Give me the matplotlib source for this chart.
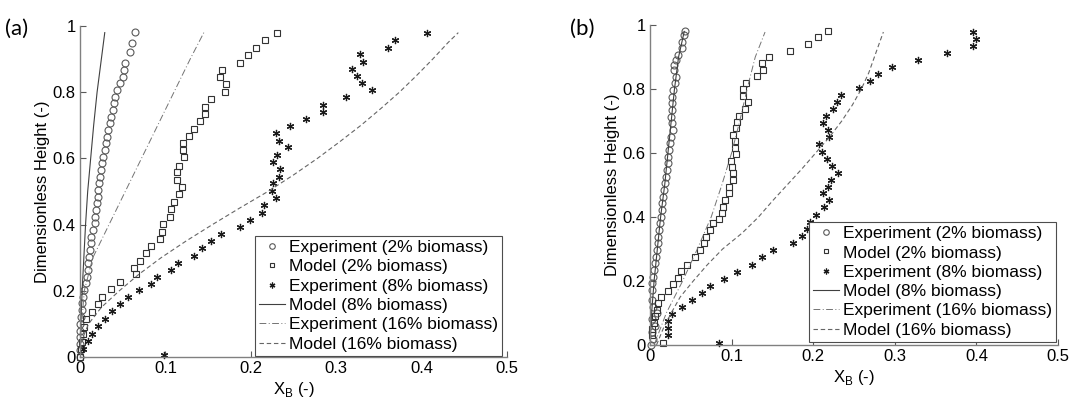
import matplotlib
matplotlib.use("Agg")
import matplotlib.pyplot as plt

plt.rcParams['font.family'] = ['Liberation Sans', 'DejaVu Sans']

# ---------------- Panel (a) data ----------------
a_circ_x = [0.000, 0.000, 0.000, 0.000, 0.000, 0.000, 0.001, 0.002, 0.002, 0.004, 0.005, 0.007,
            0.008, 0.009, 0.009, 0.011, 0.012, 0.013, 0.013, 0.015, 0.017, 0.018, 0.019, 0.020,
            0.021, 0.021, 0.022, 0.023, 0.025, 0.026, 0.027, 0.029, 0.030, 0.032, 0.033, 0.035,
            0.036, 0.039, 0.040, 0.041, 0.043, 0.047, 0.050, 0.052, 0.053, 0.059, 0.061, 0.064]
a_circ_y = [0.000, 0.020, 0.040, 0.060, 0.080, 0.100, 0.121, 0.142, 0.163, 0.181, 0.202, 0.224,
            0.242, 0.263, 0.284, 0.302, 0.323, 0.344, 0.363, 0.384, 0.405, 0.423, 0.444, 0.465,
            0.483, 0.505, 0.526, 0.544, 0.565, 0.586, 0.604, 0.625, 0.647, 0.665, 0.686, 0.707,
            0.725, 0.746, 0.767, 0.786, 0.807, 0.828, 0.846, 0.867, 0.888, 0.921, 0.950, 0.982]

a_sq_x = [0.000, 0.001, 0.002, 0.003, 0.005, 0.007, 0.014, 0.021, 0.026, 0.036, 0.047, 0.066,
          0.063, 0.070, 0.077, 0.083, 0.094, 0.096, 0.097, 0.105, 0.107, 0.110, 0.116, 0.119,
          0.113, 0.113, 0.116, 0.122, 0.121, 0.121, 0.128, 0.134, 0.141, 0.146, 0.146, 0.153,
          0.170, 0.171, 0.164, 0.166, 0.187, 0.197, 0.206, 0.217, 0.231]
a_sq_y = [0.000, 0.024, 0.045, 0.069, 0.091, 0.115, 0.136, 0.160, 0.181, 0.205, 0.227, 0.251,
          0.269, 0.290, 0.314, 0.335, 0.356, 0.378, 0.402, 0.423, 0.447, 0.468, 0.492, 0.514,
          0.535, 0.559, 0.577, 0.604, 0.625, 0.647, 0.668, 0.689, 0.713, 0.734, 0.755, 0.779,
          0.801, 0.825, 0.846, 0.867, 0.888, 0.912, 0.934, 0.958, 0.979]

a_star_x = [0.098, 0.004, 0.009, 0.014, 0.021, 0.029, 0.038, 0.047, 0.056, 0.069, 0.083, 0.090,
            0.106, 0.115, 0.133, 0.143, 0.153, 0.165, 0.187, 0.199, 0.213, 0.215, 0.230, 0.225,
            0.226, 0.233, 0.234, 0.226, 0.231, 0.243, 0.233, 0.229, 0.246, 0.265, 0.284, 0.284,
            0.311, 0.342, 0.330, 0.324, 0.319, 0.331, 0.328, 0.361, 0.369, 0.406]
a_star_y = [0.005, 0.024, 0.047, 0.070, 0.094, 0.116, 0.139, 0.160, 0.181, 0.202, 0.222, 0.242,
            0.263, 0.284, 0.305, 0.329, 0.349, 0.372, 0.393, 0.414, 0.436, 0.459, 0.481, 0.503,
            0.525, 0.545, 0.567, 0.588, 0.610, 0.633, 0.654, 0.676, 0.697, 0.718, 0.740, 0.761,
            0.784, 0.806, 0.827, 0.848, 0.871, 0.892, 0.914, 0.935, 0.957, 0.979]

a_m8_x = [0.000, 0.001, 0.0025, 0.0045, 0.0065, 0.009, 0.0125, 0.016, 0.020, 0.025, 0.029]
a_m8_y = [0.000, 0.100, 0.200, 0.300, 0.400, 0.500, 0.600, 0.700, 0.800, 0.900, 0.980]

a_e16_x = [0.000, 0.002, 0.005, 0.015, 0.034, 0.053, 0.072, 0.091, 0.110, 0.129, 0.145]
a_e16_y = [0.000, 0.100, 0.200, 0.300, 0.400, 0.500, 0.600, 0.700, 0.800, 0.900, 0.980]

a_m16_x = [0.000, 0.002, 0.010, 0.025, 0.046, 0.069, 0.095, 0.124, 0.155, 0.187, 0.220,
           0.250, 0.278, 0.304, 0.329, 0.352, 0.374, 0.394, 0.413, 0.431, 0.443]
a_m16_y = [0.000, 0.050, 0.100, 0.150, 0.200, 0.250, 0.300, 0.350, 0.400, 0.450, 0.500,
           0.550, 0.600, 0.650, 0.700, 0.750, 0.800, 0.850, 0.900, 0.950, 0.980]

# ---------------- Panel (b) data ----------------
b_circ_x = [0.001, 0.004, 0.002, 0.006, 0.003, 0.008, 0.004, 0.002, 0.002, 0.002, 0.004, 0.005,
            0.006, 0.007, 0.009, 0.010, 0.010, 0.011, 0.012, 0.013, 0.015, 0.015, 0.016, 0.017,
            0.018, 0.020, 0.021, 0.022, 0.022, 0.023, 0.025, 0.026, 0.028, 0.027, 0.026, 0.027,
            0.027, 0.027, 0.028, 0.031, 0.032, 0.029, 0.029, 0.032, 0.034, 0.039, 0.039, 0.042,
            0.043]
b_circ_y = [0.000, 0.020, 0.040, 0.060, 0.080, 0.100, 0.120, 0.140, 0.172, 0.194, 0.213, 0.234,
            0.256, 0.275, 0.297, 0.319, 0.338, 0.359, 0.381, 0.400, 0.422, 0.444, 0.463, 0.484,
            0.506, 0.525, 0.547, 0.569, 0.588, 0.609, 0.631, 0.650, 0.672, 0.694, 0.713, 0.734,
            0.756, 0.775, 0.797, 0.819, 0.838, 0.859, 0.875, 0.891, 0.906, 0.928, 0.947, 0.969,
            0.981]

b_sq_x = [0.016, 0.003, 0.003, 0.005, 0.006, 0.008, 0.010, 0.014, 0.022, 0.028, 0.034, 0.038,
          0.045, 0.055, 0.061, 0.066, 0.069, 0.073, 0.077, 0.085, 0.088, 0.089, 0.092, 0.097,
          0.097, 0.102, 0.102, 0.100, 0.099, 0.105, 0.104, 0.104, 0.102, 0.105, 0.107, 0.109,
          0.116, 0.120, 0.114, 0.114, 0.118, 0.131, 0.138, 0.137, 0.146, 0.172, 0.194, 0.206,
          0.218]
b_sq_y = [0.005, 0.030, 0.050, 0.070, 0.090, 0.110, 0.130, 0.150, 0.170, 0.190, 0.210, 0.230,
          0.250, 0.275, 0.297, 0.319, 0.338, 0.359, 0.381, 0.394, 0.413, 0.431, 0.453, 0.475,
          0.494, 0.516, 0.538, 0.556, 0.575, 0.597, 0.616, 0.638, 0.656, 0.678, 0.697, 0.716,
          0.738, 0.759, 0.778, 0.800, 0.819, 0.841, 0.859, 0.881, 0.900, 0.919, 0.941, 0.963,
          0.981]

b_star_x = [0.085, 0.022, 0.022, 0.022, 0.027, 0.039, 0.051, 0.064, 0.074, 0.091, 0.107, 0.125,
            0.137, 0.151, 0.175, 0.186, 0.192, 0.196, 0.204, 0.213, 0.219, 0.212, 0.218, 0.222,
            0.230, 0.223, 0.217, 0.211, 0.207, 0.219, 0.218, 0.212, 0.216, 0.224, 0.229, 0.234,
            0.256, 0.270, 0.280, 0.297, 0.328, 0.364, 0.396, 0.400, 0.396]
b_star_y = [0.006, 0.031, 0.053, 0.075, 0.097, 0.119, 0.141, 0.163, 0.185, 0.206, 0.228, 0.250,
            0.275, 0.296, 0.319, 0.341, 0.363, 0.384, 0.407, 0.430, 0.452, 0.474, 0.494, 0.516,
            0.538, 0.559, 0.581, 0.603, 0.628, 0.650, 0.672, 0.694, 0.716, 0.738, 0.759, 0.781,
            0.803, 0.825, 0.847, 0.869, 0.891, 0.913, 0.934, 0.956, 0.978]

b_m8_x = [0.000, 0.002, 0.005, 0.009, 0.013, 0.018, 0.022, 0.026, 0.030, 0.035, 0.042]
b_m8_y = [0.000, 0.100, 0.200, 0.300, 0.400, 0.500, 0.600, 0.700, 0.800, 0.900, 0.980]

b_e16_x = [0.005, 0.020, 0.040, 0.058, 0.075, 0.088, 0.100, 0.110, 0.119, 0.129, 0.141]
b_e16_y = [0.000, 0.100, 0.200, 0.300, 0.400, 0.500, 0.600, 0.700, 0.800, 0.900, 0.978]

b_m16_x = [0.008, 0.016, 0.026, 0.037, 0.053, 0.070, 0.089, 0.113, 0.133, 0.150, 0.168,
           0.186, 0.203, 0.220, 0.235, 0.248, 0.259, 0.268, 0.275, 0.282, 0.286]
b_m16_y = [0.000, 0.050, 0.100, 0.150, 0.200, 0.250, 0.300, 0.350, 0.400, 0.450, 0.500,
           0.550, 0.600, 0.650, 0.700, 0.750, 0.800, 0.850, 0.900, 0.950, 0.978]

labels = ['Experiment (2% biomass)', 'Model (2% biomass)', 'Experiment (8% biomass)',
          'Model (8% biomass)', 'Experiment (16% biomass)', 'Model (16% biomass)']
x_ticks = [0, 0.1, 0.2, 0.3, 0.4, 0.5]
x_ticklabels = ['0', '0.1', '0.2', '0.3', '0.4', '0.5']
y_ticks = [0, 0.2, 0.4, 0.6, 0.8, 1.0]
y_ticklabels = ['0', '0.2', '0.4', '0.6', '0.8', '1']

W, H = 1075, 405
fig = plt.figure(figsize=(W / 100, H / 100), dpi=100)

star = (6, 2, 0)


def draw(ax, data, leg_anchor):
    (cx, cy, sx, sy, tx, ty, m8x, m8y, e16x, e16y, m16x, m16y) = data
    ax.plot(cx, cy, linestyle='none', marker='o', ms=5.0, mfc='none', mec='0.35', mew=0.8,
            clip_on=False, label=labels[0])
    ax.plot(sx, sy, linestyle='none', marker='s', ms=4.3, mfc='none', mec='0.2', mew=0.8,
            clip_on=False, label=labels[1])
    ax.plot(tx, ty, linestyle='none', marker=star, ms=5.2, mfc='none', mec='0.1', mew=0.9,
            clip_on=False, label=labels[2])
    ax.plot(m8x, m8y, '-', color='0.25', lw=0.8, label=labels[3])
    ax.plot(e16x, e16y, color='0.45', lw=0.7, linestyle=(0, (7, 2.5, 1, 2.5)), label=labels[4])
    ax.plot(m16x, m16y, color='0.4', lw=0.8, linestyle=(0, (4, 2.5)), label=labels[5])
    ax.set_xlim(0, 0.5)
    ax.set_ylim(0, 1)
    ax.set_xticks(x_ticks)
    ax.set_xticklabels(x_ticklabels)
    ax.set_yticks(y_ticks)
    ax.set_yticklabels(y_ticklabels)
    ax.tick_params(direction='in', length=4, width=0.8, colors='0.35', labelcolor='black',
                   labelsize=12, pad=3)
    for s in ['top', 'right']:
        ax.spines[s].set_visible(False)
    for s in ['left', 'bottom']:
        ax.spines[s].set_color('0.5')
        ax.spines[s].set_linewidth(1.0)
    ax.set_ylabel('Dimensionless Height (-)', fontsize=12, labelpad=2)
    ax.set_xlabel(r'X$_\mathregular{B}$ (-)', fontsize=12, labelpad=3)
    leg = ax.legend(loc='lower right', bbox_to_anchor=leg_anchor, borderaxespad=0,
                    fontsize=12.5, frameon=True, fancybox=False, framealpha=1,
                    edgecolor='0.3', handlelength=1.5, handletextpad=0.2,
                    labelspacing=0.24, borderpad=0.25, markerscale=0.8)
    leg.get_frame().set_linewidth(0.8)


ax1 = fig.add_axes([80 / W, (H - 357) / H, 427 / W, 331 / H])
draw(ax1, (a_circ_x, a_circ_y, a_sq_x, a_sq_y, a_star_x, a_star_y,
           a_m8_x, a_m8_y, a_e16_x, a_e16_y, a_m16_x, a_m16_y), (0.988, 0.003))

ax2 = fig.add_axes([650 / W, (H - 345) / H, 408 / W, 320 / H])
draw(ax2, (b_circ_x, b_circ_y, b_sq_x, b_sq_y, b_star_x, b_star_y,
           b_m8_x, b_m8_y, b_e16_x, b_e16_y, b_m16_x, b_m16_y), (0.995, 0.009))

fig.text(5 / W, 1 - 35 / H, '(a)', fontsize=16, family=['Lato', 'DejaVu Sans'])
fig.text(570 / W, 1 - 35 / H, '(b)', fontsize=16, family=['Lato', 'DejaVu Sans'])

fig.savefig('out.png', dpi=100)
